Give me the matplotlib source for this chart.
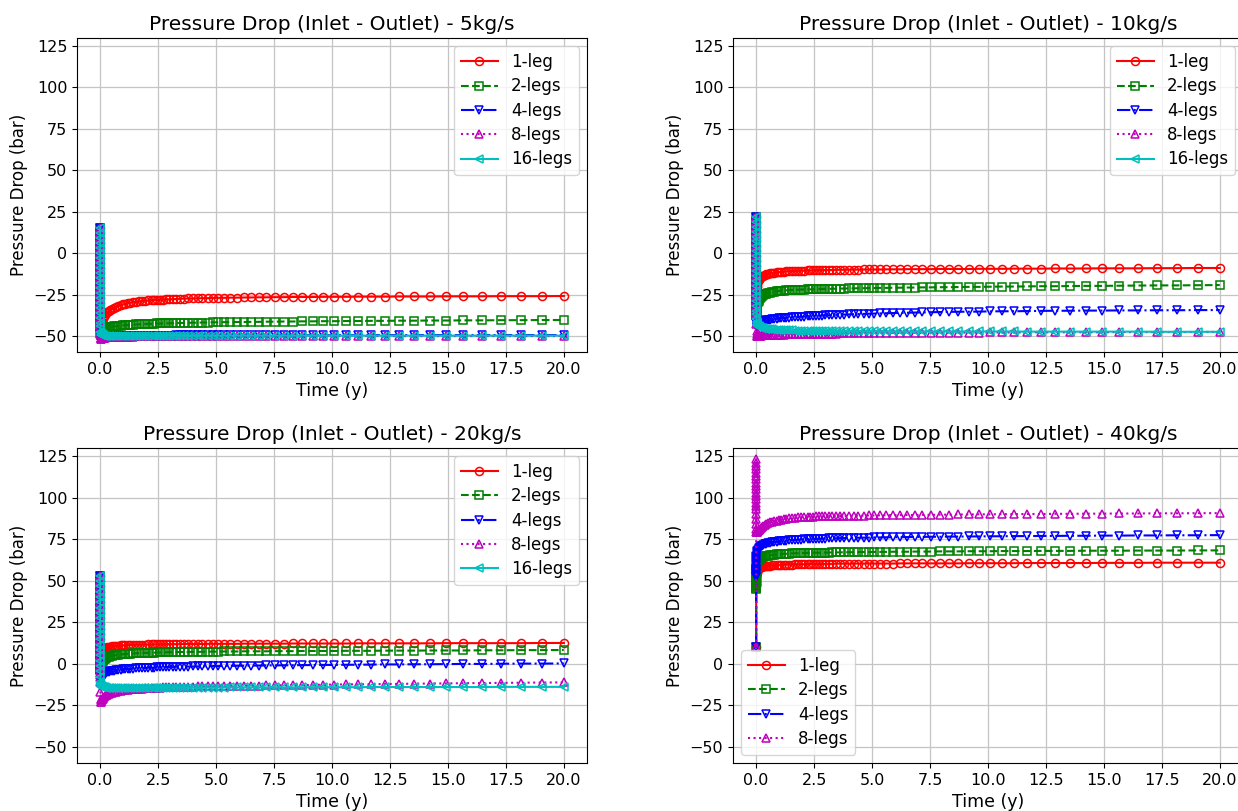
import matplotlib
matplotlib.use("Agg")
import matplotlib.pyplot as plt
from matplotlib.ticker import MultipleLocator

# ---------------- data ----------------
time_y = [0, 0.0005, 0.001, 0.0015, 0.002, 0.0025, 0.003, 0.0035, 0.004, 0.0045,
          0.005, 0.0055, 0.006, 0.0065, 0.007, 0.0075, 0.008, 0.0085, 0.009, 0.0095,
          0.01, 0.012, 0.015, 0.02, 0.03, 0.05, 0.07, 0.1, 0.13,
          0.17, 0.21, 0.26, 0.31, 0.37, 0.44, 0.52, 0.6, 0.69, 0.78,
          0.88, 0.98, 1.08, 1.19, 1.3, 1.42, 1.54, 1.67, 1.8, 1.94,
          2.08, 2.22, 2.33, 2.45, 2.57, 2.7, 2.84, 2.98, 3.13, 3.29,
          3.45, 3.62, 3.8, 4.0, 4.2, 4.41, 4.63, 4.86, 5.1, 5.35,
          5.62, 5.9, 6.2, 6.51, 6.83, 7.17, 7.53, 7.91, 8.31, 8.72,
          9.16, 9.62, 10.1, 10.6, 11.14, 11.69, 12.28, 12.89, 13.53, 14.21,
          14.92, 15.67, 16.45, 17.28, 18.14, 19.05, 20.0]

series_labels = ["1-leg", "2-legs", "4-legs", "8-legs", "16-legs"]
panel_titles = ["Pressure Drop (Inlet - Outlet) - 5kg/s",
                "Pressure Drop (Inlet - Outlet) - 10kg/s",
                "Pressure Drop (Inlet - Outlet) - 20kg/s",
                "Pressure Drop (Inlet - Outlet) - 40kg/s"]

# 5 kg/s
dp5_1leg = [15, 12, 9, 6, 3, 0, -3, -6, -9, -12,
            -15, -18, -21, -24, -27, -30, -33, -36, -39, -42,
            -44, -47, -47.5, -46, -44.5, -42.8, -41.3, -40, -39,
            -38, -37.2, -36.4, -35.7, -35, -34.3, -33.6, -33, -32.4, -31.9,
            -31.4, -31, -30.6, -30.3, -30, -29.7, -29.5, -29.2, -29, -28.8,
            -28.6, -28.5, -28.4, -28.3, -28.2, -28.1, -28, -27.9, -27.8, -27.7,
            -27.6, -27.5, -27.4, -27.4, -27.3, -27.2, -27.2, -27.1, -27, -27,
            -26.9, -26.9, -26.8, -26.8, -26.7, -26.7, -26.6, -26.6, -26.5, -26.5,
            -26.5, -26.4, -26.4, -26.4, -26.3, -26.3, -26.3, -26.2, -26.2, -26.2,
            -26.1, -26.1, -26.1, -26, -26, -26, -25.9]
dp5_2legs = [15, 12, 9, 6, 3, 0, -3, -6, -9, -12,
             -15, -18, -21, -24, -27, -30, -33, -36, -39, -42,
             -44, -48.5, -49.5, -49.3, -48.7, -48, -47.5, -47, -46.6,
             -46.1, -45.8, -45.5, -45.2, -44.9, -44.7, -44.5, -44.3, -44.1, -43.9,
             -43.8, -43.6, -43.5, -43.4, -43.3, -43.2, -43.1, -43, -42.9, -42.8,
             -42.7, -42.7, -42.6, -42.5, -42.5, -42.4, -42.4, -42.3, -42.3, -42.2,
             -42.2, -42.1, -42.1, -42, -42, -41.9, -41.9, -41.8, -41.8, -41.7,
             -41.7, -41.6, -41.6, -41.5, -41.5, -41.4, -41.4, -41.3, -41.3, -41.2,
             -41.2, -41.1, -41.1, -41, -41, -40.9, -40.9, -40.8, -40.8, -40.7,
             -40.7, -40.6, -40.6, -40.5, -40.5, -40.4, -40.4]
dp5_4legs = [15, 12, 9, 6, 3, 0, -3, -6, -9, -12,
             -15, -18, -21, -24, -27, -30, -33, -36, -39, -42,
             -44, -49, -50.5, -51, -51, -50.8, -50.7, -50.6, -50.5,
             -50.5, -50.4, -50.4, -50.3, -50.3, -50.2, -50.2, -50.2, -50.1, -50.1,
             -50.1, -50, -50, -50, -50, -50, -49.9, -49.9, -49.9, -49.9,
             -49.9, -49.9, -49.8, -49.8, -49.8, -49.8, -49.8, -49.8, -49.8, -49.7,
             -49.7, -49.7, -49.7, -49.7, -49.7, -49.7, -49.7, -49.7, -49.7, -49.7,
             -49.7, -49.7, -49.6, -49.6, -49.6, -49.6, -49.6, -49.6, -49.6, -49.6,
             -49.6, -49.6, -49.6, -49.6, -49.6, -49.5, -49.5, -49.5, -49.5, -49.5,
             -49.5, -49.5, -49.5, -49.5, -49.5, -49.5, -49.5]
dp5_8legs = [15, 12, 9, 6, 3, 0, -3, -6, -9, -12,
             -15, -18, -21, -24, -27, -30, -33, -36, -39, -42,
             -44, -49, -51, -51.7, -51.6, -51.5, -51.4, -51.3, -51.2,
             -51.1, -51, -50.9, -50.8, -50.8, -50.7, -50.7, -50.6, -50.6, -50.5,
             -50.5, -50.5, -50.4, -50.4, -50.4, -50.4, -50.3, -50.3, -50.3, -50.3,
             -50.3, -50.3, -50.3, -50.3, -50.3, -50.3, -50.3, -50.3, -50.3, -50.3,
             -50.2, -50.2, -50.2, -50.2, -50.2, -50.2, -50.2, -50.2, -50.2, -50.2,
             -50.2, -50.2, -50.2, -50.2, -50.2, -50.2, -50.2, -50.2, -50.2, -50.2,
             -50.1, -50.1, -50.1, -50.1, -50.1, -50.1, -50.1, -50.1, -50.1, -50.1,
             -50.1, -50.1, -50.1, -50.1, -50.1, -50.1, -50.1]
dp5_16legs = [15, 12, 9, 6, 3, 0, -3, -6, -9, -12,
              -15, -18, -21, -24, -27, -30, -33, -36, -39, -42,
              -44, -47.5, -48.5, -49, -49.3, -49.5, -49.6, -49.7, -49.7,
              -49.8, -49.8, -49.8, -49.8, -49.8, -49.8, -49.8, -49.8, -49.8, -49.8,
              -49.8, -49.8, -49.8, -49.8, -49.8, -49.8, -49.8, -49.8, -49.8, -49.8,
              -49.8, -49.8, -49.8, -49.8, -49.8, -49.8, -49.8, -49.8, -49.8, -49.8,
              -49.8, -49.8, -49.8, -49.8, -49.8, -49.8, -49.8, -49.8, -49.8, -49.8,
              -49.8, -49.8, -49.8, -49.8, -49.8, -49.8, -49.8, -49.8, -49.8, -49.8,
              -49.8, -49.8, -49.8, -49.8, -49.8, -49.8, -49.8, -49.8, -49.8, -49.8,
              -49.8, -49.8, -49.8, -49.8, -49.8, -49.8, -49.8]

# 10 kg/s
dp10_1leg = [22, 19, 16, 13, 10, 7, 4, 1, -2, -5,
             -8, -11, -14, -17, -20, -22, -22.5, -22.5, -22.3, -22.2,
             -22, -21.3, -20.6, -19.8, -18.9, -17.8, -17, -16.2, -15.6,
             -15, -14.5, -14, -13.6, -13.2, -12.9, -12.6, -12.3, -12.1, -11.9,
             -11.7, -11.5, -11.4, -11.3, -11.1, -11, -10.9, -10.8, -10.7, -10.6,
             -10.6, -10.5, -10.5, -10.4, -10.4, -10.3, -10.3, -10.2, -10.2, -10.2,
             -10.1, -10.1, -10.1, -10, -10, -10, -9.9, -9.9, -9.9, -9.9,
             -9.8, -9.8, -9.8, -9.7, -9.7, -9.7, -9.7, -9.6, -9.6, -9.6,
             -9.6, -9.5, -9.5, -9.5, -9.4, -9.4, -9.4, -9.3, -9.3, -9.3,
             -9.2, -9.2, -9.2, -9.1, -9.1, -9, -9]
dp10_2legs = [22, 19, 16, 13, 10, 7, 4, 1, -2, -5,
              -8, -11, -14, -17, -20, -23, -26, -29, -32, -35,
              -37, -37.5, -36.5, -35, -33, -31, -29.8, -28.7, -27.8,
              -27, -26.4, -25.8, -25.3, -24.9, -24.5, -24.1, -23.8, -23.5, -23.3,
              -23.1, -22.9, -22.7, -22.6, -22.5, -22.4, -22.3, -22.2, -22.1, -22,
              -22, -21.9, -21.9, -21.8, -21.8, -21.7, -21.7, -21.6, -21.6, -21.5,
              -21.5, -21.4, -21.4, -21.3, -21.3, -21.2, -21.2, -21.1, -21.1, -21,
              -21, -20.9, -20.9, -20.8, -20.8, -20.7, -20.7, -20.6, -20.6, -20.5,
              -20.4, -20.4, -20.3, -20.2, -20.2, -20.1, -20, -20, -19.9, -19.8,
              -19.8, -19.7, -19.6, -19.5, -19.5, -19.4, -19.3]
dp10_4legs = [22, 19, 16, 13, 10, 7, 4, 1, -2, -5,
              -8, -11, -14, -17, -20, -23, -26, -29, -32, -35,
              -37, -42, -44.5, -45, -44.6, -43.8, -43.2, -42.7, -42.3,
              -41.9, -41.6, -41.3, -41, -40.7, -40.5, -40.3, -40.1, -39.9, -39.7,
              -39.6, -39.4, -39.3, -39.1, -39, -38.9, -38.7, -38.6, -38.5, -38.4,
              -38.3, -38.2, -38.1, -38, -37.9, -37.8, -37.7, -37.6, -37.5, -37.4,
              -37.3, -37.2, -37.1, -37, -36.9, -36.8, -36.7, -36.6, -36.5, -36.4,
              -36.3, -36.2, -36.1, -36, -35.9, -35.8, -35.7, -35.6, -35.5, -35.4,
              -35.4, -35.3, -35.2, -35.1, -35.1, -35, -34.9, -34.8, -34.8, -34.7,
              -34.7, -34.6, -34.6, -34.5, -34.5, -34.4, -34.4]
dp10_8legs = [22, 19, 16, 13, 10, 7, 4, 1, -2, -5,
              -8, -11, -14, -17, -20, -23, -26, -29, -32, -35,
              -37, -43, -47, -49, -49.8, -50, -50, -49.9, -49.9,
              -49.8, -49.8, -49.7, -49.7, -49.6, -49.6, -49.5, -49.5, -49.4, -49.4,
              -49.3, -49.3, -49.2, -49.2, -49.1, -49.1, -49, -49, -49, -48.9,
              -48.9, -48.9, -48.8, -48.8, -48.8, -48.7, -48.7, -48.7, -48.6, -48.6,
              -48.6, -48.5, -48.5, -48.5, -48.4, -48.4, -48.4, -48.3, -48.3, -48.3,
              -48.3, -48.2, -48.2, -48.2, -48.1, -48.1, -48.1, -48.1, -48, -48,
              -48, -48, -47.9, -47.9, -47.9, -47.9, -47.8, -47.8, -47.8, -47.8,
              -47.8, -47.7, -47.7, -47.7, -47.7, -47.6, -47.6]
dp10_16legs = [22, 19, 16, 13, 10, 7, 4, 1, -2, -5,
               -8, -11, -14, -17, -20, -23, -26, -29, -32, -35,
               -37, -40, -41.5, -42.3, -42.8, -43.4, -43.8, -44.2, -44.5,
               -44.8, -45, -45.2, -45.4, -45.6, -45.8, -45.9, -46, -46.1, -46.2,
               -46.3, -46.4, -46.5, -46.6, -46.6, -46.7, -46.7, -46.8, -46.8, -46.9,
               -46.9, -46.9, -47, -47, -47, -47, -47.1, -47.1, -47.1, -47.1,
               -47.2, -47.2, -47.2, -47.2, -47.2, -47.2, -47.2, -47.2, -47.2, -47.2,
               -47.2, -47.2, -47.3, -47.3, -47.3, -47.3, -47.3, -47.3, -47.3, -47.3,
               -47.3, -47.3, -47.3, -47.3, -47.3, -47.4, -47.4, -47.4, -47.4, -47.4,
               -47.4, -47.4, -47.4, -47.5, -47.5, -47.5, -47.5]

# 20 kg/s
dp20_1leg = [53, 49.8, 46.6, 43.4, 40.2, 37, 33.8, 30.6, 27.4, 24.2,
             21, 17.8, 14.6, 11.4, 8.2, 5, 4.6, 4.5, 4.5, 4.6,
             4.8, 5.1, 5.5, 6, 6.6, 7.3, 7.8, 8.3, 8.7,
             9.1, 9.4, 9.7, 9.9, 10.1, 10.3, 10.5, 10.6, 10.8, 10.9,
             11, 11.1, 11.2, 11.2, 11.3, 11.3, 11.4, 11.4, 11.5, 11.5,
             11.6, 11.6, 11.6, 11.7, 11.7, 11.7, 11.7, 11.8, 11.8, 11.8,
             11.8, 11.9, 11.9, 11.9, 11.9, 11.9, 12, 12, 12, 12,
             12, 12, 12.1, 12.1, 12.1, 12.1, 12.1, 12.1, 12.2, 12.2,
             12.2, 12.2, 12.2, 12.2, 12.3, 12.3, 12.3, 12.3, 12.3, 12.3,
             12.4, 12.4, 12.4, 12.4, 12.4, 12.5, 12.5]
dp20_2legs = [53, 49.8, 46.6, 43.4, 40.2, 37, 33.8, 30.6, 27.4, 24.2,
              21, 17.8, 14.6, 11.4, 8.2, 5, 1.8, -1.4, -3, -3.2,
              -3, -2.6, -2.2, -1.5, -0.6, 0.4, 1, 1.7, 2.2,
              2.7, 3.1, 3.5, 3.9, 4.2, 4.5, 4.8, 5, 5.2, 5.4,
              5.6, 5.7, 5.9, 6, 6.1, 6.2, 6.3, 6.4, 6.5, 6.6,
              6.6, 6.7, 6.7, 6.8, 6.8, 6.9, 6.9, 7, 7, 7,
              7.1, 7.1, 7.1, 7.2, 7.2, 7.2, 7.3, 7.3, 7.3, 7.4,
              7.4, 7.4, 7.5, 7.5, 7.5, 7.5, 7.6, 7.6, 7.6, 7.7,
              7.7, 7.7, 7.7, 7.8, 7.8, 7.8, 7.9, 7.9, 7.9, 8,
              8, 8, 8.1, 8.1, 8.2, 8.2, 8.3]
dp20_4legs = [53, 49.8, 46.6, 43.4, 40.2, 37, 33.8, 30.6, 27.4, 24.2,
              21, 17.8, 14.6, 11.4, 8.2, 5, 1.8, -1.4, -4.6, -7.8,
              -10, -11, -11, -10.5, -9.6, -8.6, -8, -7.4, -6.9,
              -6.4, -6, -5.6, -5.2, -4.9, -4.6, -4.3, -4.1, -3.9, -3.7,
              -3.5, -3.4, -3.2, -3.1, -3, -2.9, -2.8, -2.7, -2.6, -2.5,
              -2.4, -2.3, -2.3, -2.2, -2.1, -2.1, -2, -1.9, -1.9, -1.8,
              -1.8, -1.7, -1.7, -1.6, -1.6, -1.5, -1.5, -1.4, -1.4, -1.3,
              -1.3, -1.2, -1.2, -1.1, -1.1, -1, -1, -0.9, -0.9, -0.8,
              -0.8, -0.7, -0.7, -0.6, -0.6, -0.5, -0.4, -0.4, -0.3, -0.3,
              -0.2, -0.1, -0.1, 0, 0.1, 0.1, 0.2]
dp20_8legs = [53, 49.8, 46.6, 43.4, 40.2, 37, 33.8, 30.6, 27.4, 24.2,
              21, 17.8, 14.6, 11.4, 8.2, 5, 1.8, -1.4, -4.6, -7.8,
              -11, -17, -21, -23, -22.8, -22, -21.5, -21, -20.5,
              -20, -19.5, -19, -18.6, -18.2, -17.8, -17.4, -17.1, -16.8, -16.5,
              -16.2, -16, -15.8, -15.6, -15.4, -15.3, -15.1, -15, -14.9, -14.8,
              -14.7, -14.6, -14.5, -14.4, -14.3, -14.2, -14.1, -14.1, -14, -13.9,
              -13.9, -13.8, -13.7, -13.7, -13.6, -13.6, -13.5, -13.4, -13.4, -13.3,
              -13.3, -13.2, -13.2, -13.1, -13.1, -13, -13, -12.9, -12.8, -12.8,
              -12.7, -12.6, -12.5, -12.4, -12.4, -12.3, -12.2, -12.1, -12, -11.9,
              -11.8, -11.7, -11.6, -11.5, -11.4, -11.3, -11.2]
dp20_16legs = [53, 49.8, 46.6, 43.4, 40.2, 37, 33.8, 30.6, 27.4, 24.2,
               21, 17.8, 14.6, 11.4, 8.2, 5, 1.8, -1.4, -4.6, -7.8,
               -11, -12, -12.8, -13.2, -13.5, -13.7, -13.9, -14, -14.1,
               -14.1, -14.2, -14.3, -14.3, -14.4, -14.4, -14.4, -14.5, -14.5, -14.5,
               -14.5, -14.5, -14.5, -14.5, -14.5, -14.5, -14.5, -14.5, -14.5, -14.5,
               -14.5, -14.5, -14.4, -14.4, -14.4, -14.4, -14.4, -14.4, -14.3, -14.3,
               -14.3, -14.3, -14.3, -14.3, -14.3, -14.3, -14.3, -14.3, -14.3, -14.3,
               -14.2, -14.2, -14.2, -14.2, -14.2, -14.2, -14.2, -14.2, -14.2, -14.2,
               -14.1, -14.1, -14.1, -14.1, -14.1, -14, -14, -14, -14, -14,
               -14, -14, -14, -13.9, -13.9, -13.9, -13.9]

# 40 kg/s
dp40_1leg = [10, 47, 47.3, 47.6, 48, 48.4, 48.8, 49.2, 49.6, 50,
             50.4, 50.8, 51.2, 51.6, 52, 52.3, 52.6, 52.9, 53.1, 53.2,
             53.3, 53.9, 54.5, 55.1, 55.8, 56.5, 57, 57.4, 57.7,
             58, 58.2, 58.4, 58.6, 58.8, 58.9, 59, 59.1, 59.2, 59.3,
             59.4, 59.5, 59.5, 59.6, 59.6, 59.7, 59.7, 59.8, 59.8, 59.9,
             59.9, 59.9, 60, 60, 60, 60, 60.1, 60.1, 60.1, 60.1,
             60.2, 60.2, 60.2, 60.2, 60.2, 60.3, 60.3, 60.3, 60.3, 60.3,
             60.3, 60.3, 60.4, 60.4, 60.4, 60.4, 60.4, 60.4, 60.4, 60.4,
             60.5, 60.5, 60.5, 60.5, 60.5, 60.6, 60.6, 60.6, 60.6, 60.6,
             60.7, 60.7, 60.7, 60.8, 60.8, 60.8, 60.8]
dp40_2legs = [10, 45, 45.5, 46, 46.7, 47.4, 48.1, 48.8, 49.5, 50.2,
              50.9, 51.6, 52.3, 53, 53.6, 54.2, 54.8, 55.3, 55.8, 56.1,
              56.4, 57.4, 58.3, 59.2, 60.2, 61.2, 61.9, 62.5, 63,
              63.4, 63.8, 64.1, 64.4, 64.7, 64.9, 65.1, 65.3, 65.5, 65.6,
              65.8, 65.9, 66, 66.1, 66.2, 66.3, 66.4, 66.5, 66.5, 66.6,
              66.6, 66.7, 66.7, 66.8, 66.8, 66.8, 66.9, 66.9, 66.9, 67,
              67, 67, 67.1, 67.1, 67.1, 67.2, 67.2, 67.2, 67.3, 67.3,
              67.3, 67.4, 67.4, 67.4, 67.5, 67.5, 67.5, 67.6, 67.6, 67.6,
              67.7, 67.7, 67.7, 67.8, 67.8, 67.8, 67.9, 67.9, 67.9, 68,
              68, 68, 68.1, 68.1, 68.1, 68.2, 68.2]
dp40_4legs = [10, 52, 52.5, 53, 53.7, 54.4, 55.1, 55.8, 56.5, 57.2,
              57.9, 58.6, 59.3, 60, 60.7, 61.3, 61.9, 62.5, 63, 63.5,
              64, 65, 65.8, 66.5, 67.2, 68, 68.6, 69.2, 69.7,
              70.2, 70.6, 71, 71.4, 71.8, 72.1, 72.4, 72.7, 73, 73.2,
              73.4, 73.6, 73.8, 74, 74.1, 74.3, 74.4, 74.5, 74.6, 74.7,
              74.8, 74.9, 75, 75.1, 75.1, 75.2, 75.3, 75.3, 75.4, 75.5,
              75.5, 75.6, 75.6, 75.7, 75.8, 75.8, 75.9, 75.9, 76, 76,
              76.1, 76.1, 76.2, 76.2, 76.3, 76.3, 76.4, 76.4, 76.5, 76.5,
              76.6, 76.6, 76.7, 76.7, 76.8, 76.8, 76.9, 76.9, 77, 77,
              77.1, 77.1, 77.2, 77.2, 77.3, 77.3, 77.4]
dp40_8legs = [10, 123, 121, 119, 117, 115, 113, 111, 109, 107,
              105, 103, 101, 99, 97, 95, 93, 90, 87, 84,
              81, 79.5, 79, 79.2, 79.4, 79.5, 79.8, 80.2, 80.7,
              81.3, 81.8, 82.4, 83, 83.5, 84, 84.5, 85, 85.4, 85.8,
              86.1, 86.4, 86.7, 87, 87.2, 87.4, 87.6, 87.8, 88, 88.1,
              88.2, 88.3, 88.4, 88.5, 88.6, 88.6, 88.7, 88.7, 88.8, 88.8,
              88.9, 88.9, 89, 89, 89, 89.1, 89.1, 89.2, 89.2, 89.3,
              89.4, 89.4, 89.4, 89.5, 89.5, 89.6, 89.6, 89.7, 89.7, 89.8,
              89.8, 89.9, 89.9, 90, 90, 90.1, 90.1, 90.2, 90.2, 90.3,
              90.3, 90.4, 90.4, 90.5, 90.5, 90.6, 90.6]

# ---------------- styling ----------------
plt.rcParams["font.family"] = ["DejaVu Sans"]
plt.rcParams["font.size"] = 11.5

line_styles = [("r", "-", "o"), ("g", "--", "s"), ("b", "-.", "v"),
               ("m", ":", "^"), ("c", "-", "<")]

panels = [
    (panel_titles[0], [dp5_1leg, dp5_2legs, dp5_4legs, dp5_8legs, dp5_16legs], "upper right"),
    (panel_titles[1], [dp10_1leg, dp10_2legs, dp10_4legs, dp10_8legs, dp10_16legs], "upper right"),
    (panel_titles[2], [dp20_1leg, dp20_2legs, dp20_4legs, dp20_8legs, dp20_16legs], "upper right"),
    (panel_titles[3], [dp40_1leg, dp40_2legs, dp40_4legs, dp40_8legs], "lower left"),
]

W, H = 1238, 811
rects = [
    (77 / W, (H - 352) / H, 510 / W, 314 / H),
    (733 / W, (H - 352) / H, 510 / W, 314 / H),
    (77 / W, (H - 763) / H, 510 / W, 315 / H),
    (733 / W, (H - 763) / H, 510 / W, 315 / H),
]

fig = plt.figure(figsize=(W / 100, H / 100), dpi=100)

for (title, data, loc), rect in zip(panels, rects):
    ax = fig.add_axes(rect)
    for vals, lab, (col, ls, mk) in zip(data, series_labels, line_styles):
        ax.plot(time_y, vals, color=col, linestyle=ls, marker=mk,
                markerfacecolor="none", markeredgecolor=col,
                markersize=5.8, markeredgewidth=1.1, linewidth=1.5, label=lab)
    ax.set_title(title, fontsize=14.5)
    ax.set_xlabel("Time (y)", fontsize=12.5)
    ax.set_ylabel("Pressure Drop (bar)", fontsize=12)
    ax.set_ylim(-59.7, 129.8)
    ax.xaxis.set_major_locator(MultipleLocator(2.5))
    ax.yaxis.set_major_locator(MultipleLocator(25))
    ax.grid(True, color="#c4c4c4", linewidth=0.9)
    ax.tick_params(labelsize=11.5)
    ax.legend(loc=loc, fontsize=12, labelspacing=0.38, handlelength=2.2)

fig.savefig("out.png", dpi=100)
